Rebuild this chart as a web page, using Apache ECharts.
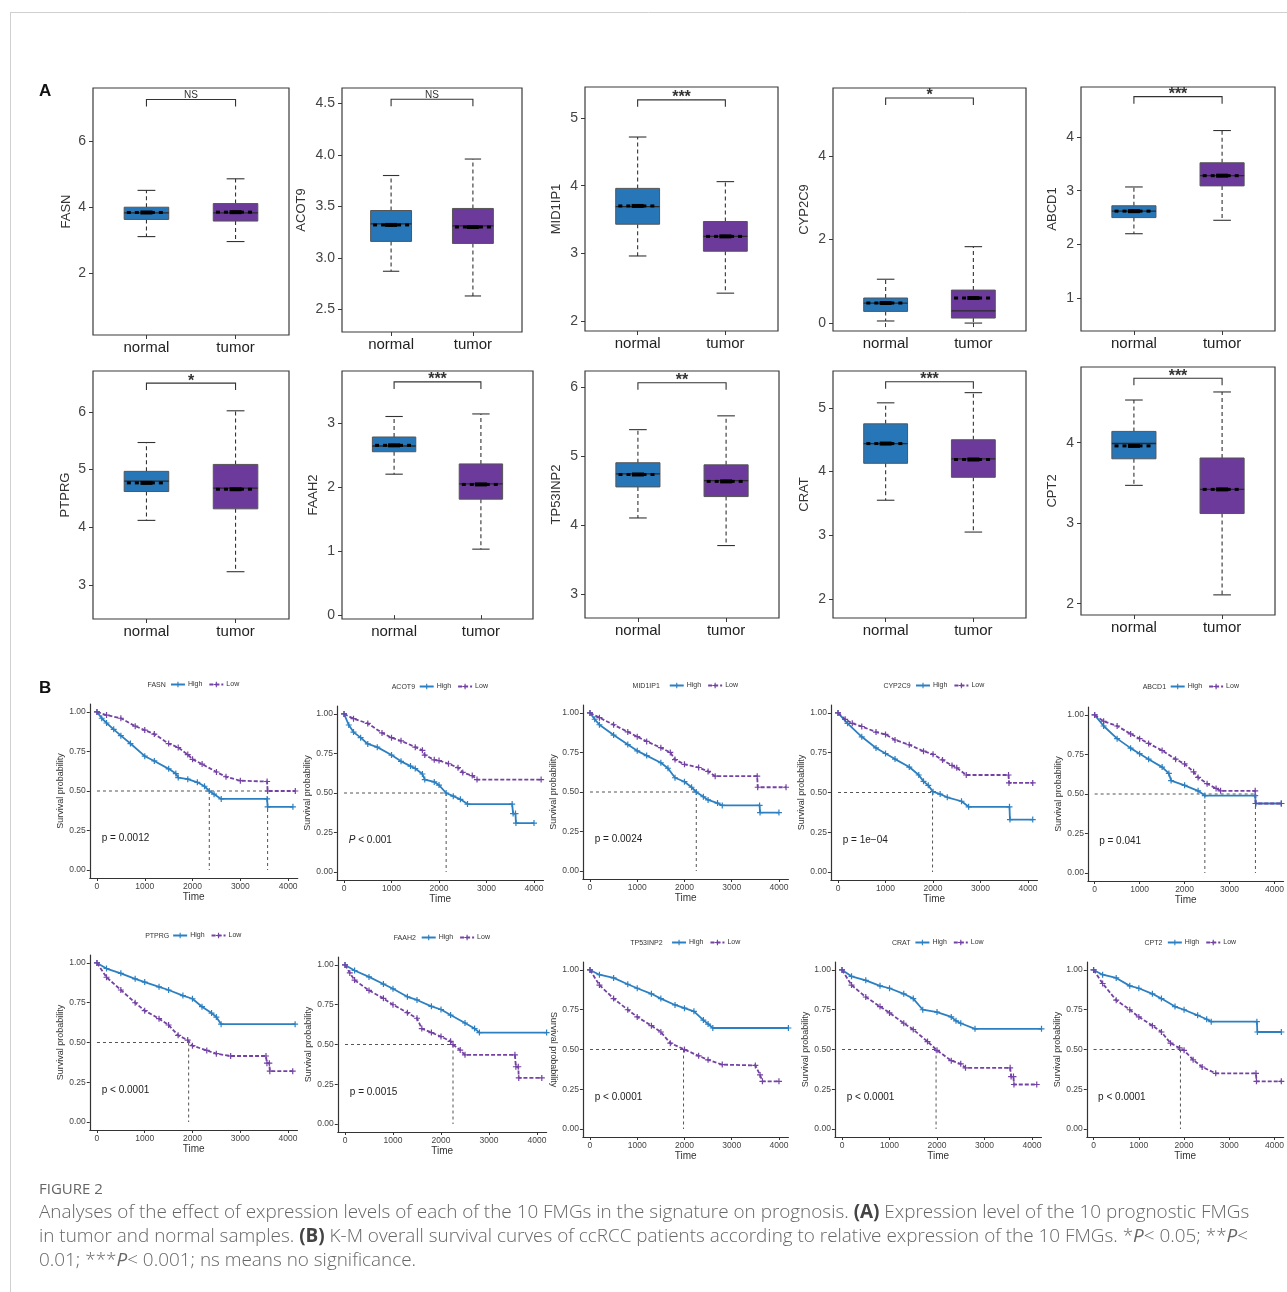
<!DOCTYPE html>
<html><head><meta charset="utf-8">
<script src="https://cdn.jsdelivr.net/npm/echarts@6/dist/echarts.min.js"></script>
<style>html,body{margin:0;padding:0;background:#fff}#c{width:1287px;height:1292px}</style>
</head><body><div id="c"></div>
<script>
// ---------- DATA ----------
const genes = ['FASN','ACOT9','MID1IP1','CYP2C9','ABCD1','PTPRG','FAAH2','TP53INP2','CRAT','CPT2'];
const groups = ['normal','tumor'];
// [min, q1, median, q3, max, mean]
const normalStats = [
 [3.10,3.62,3.82,3.99,4.50,3.83],
 [2.87,3.16,3.33,3.46,3.80,3.32],
 [2.96,3.43,3.69,3.96,4.72,3.70],
 [0.05,0.28,0.48,0.60,1.05,0.48],
 [2.20,2.50,2.62,2.72,3.07,2.62],
 [4.12,4.62,4.80,4.97,5.47,4.77],
 [2.20,2.55,2.64,2.78,3.10,2.65],
 [4.10,4.55,4.74,4.90,5.38,4.73],
 [3.55,4.13,4.44,4.75,5.08,4.44],
 [3.47,3.80,3.99,4.14,4.53,3.96]];
const tumorStats = [
 [2.95,3.57,3.82,4.10,4.85,3.84],
 [2.63,3.14,3.31,3.48,3.96,3.30],
 [2.41,3.03,3.25,3.47,4.06,3.25],
 [0.00,0.12,0.29,0.79,1.83,0.60],
 [2.45,3.09,3.28,3.52,4.12,3.28],
 [3.23,4.32,4.68,5.09,6.02,4.66],
 [1.03,1.81,2.05,2.36,3.14,2.04],
 [3.70,4.41,4.64,4.87,5.58,4.63],
 [3.05,3.91,4.20,4.50,5.24,4.19],
 [2.11,3.12,3.42,3.81,4.63,3.42]];
const sigLabels = ['NS','NS','***','*','***','*','***','**','***','***'];
const sigHeights = [7.25,4.54,5.27,5.39,4.75,6.50,3.64,6.06,5.41,4.80];
const boxYTicks = [[2,4,6],[2.5,3.0,3.5,4.0,4.5],[2,3,4,5],[0,2,4],[1,2,3,4],[3,4,5,6],[0,1,2,3],[3,4,5,6],[2,3,4,5],[2,3,4]];
const boxYRange = [[0.12,7.6],[2.28,4.65],[1.85,5.46],[-0.19,5.63],[0.39,4.93],[2.41,6.71],[-0.06,3.81],[2.65,6.23],[1.70,5.58],[1.86,4.94]];

// KM curves: [time, survival]
const kmHigh = [
 [[0,1],[100,0.96],[200,0.93],[350,0.89],[500,0.85],[700,0.80],[1000,0.72],[1200,0.69],[1500,0.64],[1650,0.61],[1700,0.585],[1900,0.575],[2100,0.555],[2250,0.53],[2350,0.50],[2450,0.48],[2600,0.45],[3560,0.45],[3570,0.40],[4100,0.40]],
 [[0,1],[100,0.93],[200,0.885],[350,0.85],[500,0.81],[700,0.79],[1000,0.74],[1200,0.70],[1400,0.67],[1500,0.655],[1650,0.62],[1700,0.585],[1900,0.57],[2000,0.55],[2150,0.50],[2300,0.48],[2450,0.46],[2600,0.43],[3540,0.43],[3560,0.37],[3610,0.37],[3620,0.31],[4000,0.31]],
 [[0,1],[100,0.96],[200,0.925],[500,0.86],[800,0.80],[1000,0.76],[1200,0.73],[1500,0.685],[1650,0.65],[1800,0.59],[2000,0.565],[2150,0.53],[2250,0.50],[2400,0.47],[2500,0.45],[2700,0.43],[2800,0.415],[3590,0.415],[3600,0.37],[4000,0.37]],
 [[0,1],[200,0.935],[500,0.85],[800,0.78],[1000,0.745],[1200,0.71],[1500,0.66],[1700,0.61],[1800,0.57],[1900,0.545],[2000,0.505],[2150,0.49],[2300,0.47],[2600,0.445],[2750,0.41],[3610,0.41],[3620,0.33],[4100,0.33]],
 [[0,1],[200,0.93],[500,0.85],[800,0.79],[1000,0.755],[1200,0.72],[1500,0.67],[1650,0.63],[1700,0.585],[2000,0.555],[2300,0.52],[2450,0.49],[3570,0.49],[3580,0.44],[4150,0.44]],
 [[0,1],[200,0.965],[500,0.935],[800,0.90],[1000,0.88],[1300,0.85],[1500,0.83],[1800,0.795],[2000,0.775],[2200,0.725],[2400,0.685],[2500,0.66],[2600,0.615],[4150,0.615]],
 [[0,1],[200,0.965],[500,0.925],[800,0.88],[1000,0.85],[1300,0.80],[1500,0.78],[1800,0.74],[2000,0.72],[2200,0.685],[2500,0.635],[2700,0.60],[2800,0.575],[4200,0.575]],
 [[0,1],[200,0.97],[500,0.95],[800,0.91],[1000,0.885],[1300,0.85],[1500,0.82],[1800,0.78],[2000,0.76],[2200,0.74],[2400,0.685],[2500,0.66],[2600,0.635],[4200,0.635]],
 [[0,1],[200,0.96],[500,0.935],[800,0.90],[1000,0.885],[1300,0.85],[1500,0.82],[1700,0.75],[2000,0.735],[2300,0.705],[2400,0.68],[2500,0.665],[2800,0.63],[4200,0.63]],
 [[0,1],[200,0.97],[500,0.95],[800,0.90],[1000,0.885],[1300,0.85],[1500,0.82],[1800,0.77],[2000,0.75],[2300,0.715],[2500,0.69],[2600,0.675],[3610,0.675],[3620,0.61],[4150,0.61]]];
const kmLow = [
 [[0,1],[200,0.98],[500,0.96],[800,0.91],[1000,0.885],[1200,0.86],[1500,0.80],[1700,0.775],[1900,0.73],[2000,0.70],[2200,0.67],[2500,0.62],[2700,0.59],[3000,0.565],[3560,0.56],[3570,0.50],[4150,0.50]],
 [[0,1],[200,0.97],[500,0.94],[800,0.88],[1000,0.85],[1200,0.83],[1500,0.79],[1650,0.77],[1700,0.74],[1900,0.71],[2000,0.705],[2200,0.685],[2400,0.66],[2500,0.63],[2700,0.61],[2800,0.585],[4150,0.585]],
 [[0,1],[200,0.97],[500,0.925],[800,0.88],[1000,0.85],[1200,0.82],[1500,0.78],[1700,0.75],[1800,0.705],[2000,0.675],[2300,0.655],[2500,0.63],[2650,0.60],[3540,0.60],[3550,0.53],[4150,0.53]],
 [[0,1],[150,0.96],[300,0.935],[500,0.915],[800,0.88],[1000,0.865],[1200,0.83],[1500,0.80],[1800,0.76],[2000,0.74],[2200,0.705],[2400,0.67],[2500,0.655],[2700,0.61],[3590,0.61],[3600,0.56],[4100,0.56]],
 [[0,1],[200,0.96],[500,0.93],[800,0.88],[1000,0.85],[1200,0.82],[1500,0.775],[1800,0.72],[2000,0.69],[2200,0.64],[2300,0.605],[2500,0.565],[2700,0.535],[2800,0.52],[3570,0.52],[3580,0.44],[4150,0.44]],
 [[0,1],[200,0.91],[500,0.83],[800,0.75],[1000,0.70],[1300,0.65],[1500,0.61],[1700,0.545],[1900,0.515],[2000,0.48],[2300,0.45],[2500,0.43],[2800,0.415],[3540,0.415],[3560,0.37],[3610,0.37],[3620,0.32],[4100,0.32]],
 [[0,1],[100,0.95],[200,0.905],[500,0.84],[800,0.79],[1000,0.75],[1300,0.70],[1500,0.665],[1600,0.60],[1800,0.575],[2000,0.55],[2200,0.52],[2250,0.50],[2400,0.465],[2500,0.435],[3540,0.435],[3560,0.36],[3610,0.36],[3620,0.29],[4100,0.29]],
 [[0,1],[200,0.905],[500,0.82],[800,0.75],[1000,0.705],[1300,0.65],[1500,0.61],[1700,0.54],[2000,0.50],[2300,0.46],[2500,0.435],[2800,0.405],[3500,0.40],[3600,0.34],[3650,0.30],[4000,0.30]],
 [[0,1],[200,0.905],[500,0.83],[800,0.77],[1000,0.73],[1300,0.665],[1500,0.625],[1800,0.55],[2000,0.495],[2300,0.43],[2500,0.41],[2600,0.385],[3540,0.385],[3560,0.33],[3610,0.33],[3620,0.28],[4100,0.28]],
 [[0,1],[200,0.915],[500,0.81],[800,0.75],[1000,0.705],[1300,0.65],[1500,0.61],[1700,0.54],[1900,0.51],[2000,0.495],[2200,0.435],[2400,0.39],[2700,0.35],[3590,0.35],[3600,0.30],[4150,0.30]]];
const kmMedians = [[2350,3570],[2150],[2250],[1990],[2450,3575],[1920],[2250],[1980],[1980],[1920]];
const kmPLabels = ['p = 0.0012','{i|P} < 0.001','p = 0.0024','p = 1e\u221204','p = 0.041','p < 0.0001','p = 0.0015','p < 0.0001','p < 0.0001','p < 0.0001'];
const kmXTicks = [0,1000,2000,3000,4000];
const kmYTicks = [0,0.25,0.5,0.75,1];

// ---------- LAYOUT / STYLE ----------
const FONT = 'Liberation Sans, Arial, sans-serif';
const BLUE_BOX = '#2676b8', PURPLE_BOX = '#6b3a9b';
const BLUE = '#2c80c2', PURPLE = '#7442a4';
const boxGrids = [
 [93,88,196,247],[342,88,180,244],[585,87,193,244],[833,88,193,243],[1081,87,194,244],
 [93,371,196,248],[342,371,191,248],[585,371,194,247],[833,371,193,247],[1081,367,194,248]];
const boxNameGap = [20,34,22,22,22,21,22,22,22,22];
const kmGrids = [
 [89.8,704,207.9,174],[336.9,706,206.6,174],[582.9,705,205.5,174],[830.9,705,206.6,175],[1087.9,707,206.6,174],
 [89.8,955,207.7,175],[337.8,957,208.8,175],[582.9,962,205.5,175],[834.9,962,206.6,175],[1086.8,962,207.7,175]];
const kmLegendY = [686,688,687,687,688,937,939,944,944,944];

const grid=[], xAxis=[], yAxis=[], series=[], legend=[], title=[];

// ---- boxplots ----
genes.forEach((g,i)=>{
  const [l,t,w,h] = boxGrids[i];
  grid.push({left:l, top:t, width:w, height:h, show:true, borderColor:'#3a3a3a', borderWidth:1.2, backgroundColor:'transparent'});
  const gi = grid.length-1;
  xAxis.push({gridIndex:gi, type:'value', min:0.4, max:2.6,
    axisLine:{show:false}, splitLine:{show:false},
    axisTick:{show:true, customValues:[1,2], length:4, lineStyle:{color:'#3a3a3a'}},
    axisLabel:{customValues:[1,2], formatter:v=>groups[Math.round(v)-1]||'', fontSize:15, color:'#222', fontFamily:FONT, margin:5}});
  yAxis.push({gridIndex:gi, type:'value', min:boxYRange[i][0], max:boxYRange[i][1],
    name:g, nameLocation:'middle', nameGap:boxNameGap[i], nameTextStyle:{fontSize:13, color:'#333', fontFamily:FONT},
    axisLine:{show:false}, splitLine:{show:false},
    axisTick:{show:true, customValues:boxYTicks[i], length:4, lineStyle:{color:'#3a3a3a'}},
    axisLabel:{customValues:boxYTicks[i], formatter:v=> i===1? Number(v).toFixed(1) : String(v), fontSize:14, color:'#444', fontFamily:FONT, margin:7}});
  series.push({type:'custom', xAxisIndex:gi, yAxisIndex:gi,
    data:[[1].concat(normalStats[i]), [2].concat(tumorStats[i])],
    renderItem:(params, api)=>{
      const x = api.value(0);
      const mn=api.value(1), q1=api.value(2), md=api.value(3), q3=api.value(4), mx=api.value(5), mean=api.value(6);
      const c = y=>api.coord([x,y]);
      const halfW = api.size([0.25,0])[0];
      const capH = api.size([0.1,0])[0];
      const meanH = api.size([0.22,0])[0];
      const cx = c(md)[0];
      const yMin=c(mn)[1], yQ1=c(q1)[1], yMd=c(md)[1], yQ3=c(q3)[1], yMx=c(mx)[1], yMean=c(mean)[1];
      const fill = params.dataIndex===0? BLUE_BOX : PURPLE_BOX;
      const dash = {stroke:'#333', lineWidth:1.1, lineDash:[4,3]};
      const solid = {stroke:'#333', lineWidth:1.1};
      return {type:'group', children:[
        {type:'line', shape:{x1:cx,y1:yQ3,x2:cx,y2:yMx}, style:dash},
        {type:'line', shape:{x1:cx,y1:yQ1,x2:cx,y2:yMin}, style:dash},
        {type:'line', shape:{x1:cx-capH,y1:yMx,x2:cx+capH,y2:yMx}, style:solid},
        {type:'line', shape:{x1:cx-capH,y1:yMin,x2:cx+capH,y2:yMin}, style:solid},
        {type:'rect', shape:{x:cx-halfW,y:yQ3,width:2*halfW,height:yQ1-yQ3}, style:{fill:fill, stroke:'#555', lineWidth:1}},
        {type:'line', shape:{x1:cx-halfW,y1:yMd,x2:cx+halfW,y2:yMd}, style:{stroke:'#2a2a2a', lineWidth:1.3}},
        {type:'line', shape:{x1:cx-meanH,y1:yMean,x2:cx+meanH,y2:yMean}, style:{stroke:'#000', lineWidth:3, lineDash:[4,4]}},
        {type:'rect', shape:{x:cx-6,y:yMean-2,width:12,height:4}, style:{fill:'#000'}}
      ]};
    }});
  series.push({type:'custom', xAxisIndex:gi, yAxisIndex:gi, data:[[sigHeights[i]]],
    renderItem:(params, api)=>{
      const h = api.value(0);
      const p1 = api.coord([1,h]), p2 = api.coord([2,h]);
      const lab = sigLabels[i];
      const isNS = lab==='NS';
      return {type:'group', children:[
        {type:'polyline', shape:{points:[[p1[0],p1[1]+7],[p1[0],p1[1]],[p2[0],p2[1]],[p2[0],p2[1]+7]]}, style:{stroke:'#333', lineWidth:1.1, fill:null}},
        {type:'text', x:(p1[0]+p2[0])/2, y: isNS? p1[1]+0.5 : p1[1]+6, style:{text:lab, fill:'#333', font:(isNS?'10px ':'bold 16px ')+FONT, align:'center', verticalAlign:'bottom'}}
      ]};
    }});
});

// ---- KM plots ----
const plusSym = 'path://M4,0h2v4h4v2h-4v4h-2v-4h-4v-2h4z';
genes.forEach((g,i)=>{
  const [l,t,w,h] = kmGrids[i];
  grid.push({left:l, top:t, width:w, height:h, show:false});
  const gi = grid.length-1;
  xAxis.push({gridIndex:gi, type:'value', min:-150, max:4200,
    name:'Time', nameLocation:'middle', nameGap:13, nameTextStyle:{fontSize:10, color:'#333', fontFamily:FONT},
    axisLine:{show:true, onZero:false, lineStyle:{color:'#333', width:1.2}}, splitLine:{show:false},
    axisTick:{show:true, customValues:kmXTicks, length:3, lineStyle:{color:'#333'}},
    axisLabel:{customValues:kmXTicks, formatter:v=>String(Math.round(v)), fontSize:8.5, color:'#444', fontFamily:FONT, margin:4}});
  yAxis.push({gridIndex:gi, type:'value', min:-0.05, max:1.05,
    name:'Survival probability', nameLocation:'middle', nameGap:23, nameRotate: i===7? -90 : 90,
    nameTextStyle:{fontSize:9, color:'#333', fontFamily:FONT},
    axisLine:{show:true, onZero:false, lineStyle:{color:'#333', width:1.2}}, splitLine:{show:false},
    axisTick:{show:true, customValues:kmYTicks, length:3, lineStyle:{color:'#333'}},
    axisLabel:{customValues:kmYTicks, formatter:v=>Number(v).toFixed(2), fontSize:8.5, color:'#444', fontFamily:FONT, margin:4}});
  const meds = kmMedians[i];
  const mMax = Math.max.apply(null, meds);
  const medStyle = {color:'#555', width:1, type:[3,3]};
  series.push({type:'line', name:'_med', xAxisIndex:gi, yAxisIndex:gi, data:[[0,0.5],[mMax,0.5]], showSymbol:false, silent:true, lineStyle:medStyle, z:1});
  meds.forEach(m=>{
    series.push({type:'line', name:'_med', xAxisIndex:gi, yAxisIndex:gi, data:[[m,0.5],[m,0]], showSymbol:false, silent:true, lineStyle:medStyle, z:1});
  });
  series.push({type:'line', name:'High', xAxisIndex:gi, yAxisIndex:gi, data:kmHigh[i], symbol:plusSym, symbolSize:6, showSymbol:true,
    itemStyle:{color:BLUE}, lineStyle:{color:BLUE, width:1.8}, z:3, animation:false});
  series.push({type:'line', name:'Low', xAxisIndex:gi, yAxisIndex:gi, data:kmLow[i], symbol:plusSym, symbolSize:6, showSymbol:true,
    itemStyle:{color:PURPLE}, lineStyle:{color:PURPLE, width:1.8, type:[4,2]}, z:3, animation:false});
  const cx = l + w/2;
  const cy = kmLegendY[i];
  const tw = g.length*4.6;
  const total = tw + 4 + 70;
  title.push({text:g, left:cx-total/2, top:cy-4.5, textStyle:{fontSize:7, fontWeight:'normal', color:'#333', fontFamily:FONT}, padding:0});
  legend.push({data:['High','Low'], left:cx-total/2+tw+4, top:cy-5, padding:0, itemWidth:14, itemHeight:7, itemGap:6,
    textStyle:{fontSize:7, color:'#333', fontFamily:FONT, padding:[0,0,0,-2]}});
});

const chart = echarts.init(document.getElementById('c'), null, {renderer:'canvas'});
chart.setOption({animation:false, backgroundColor:'#fff', title, legend, grid, xAxis, yAxis, series});

// ---- annotations ----
const graphic = [
  {type:'line', shape:{x1:10,y1:12.5,x2:1287,y2:12.5}, style:{stroke:'#cfcfcf', lineWidth:1}},
  {type:'line', shape:{x1:10.5,y1:12,x2:10.5,y2:1292}, style:{stroke:'#cfcfcf', lineWidth:1}},
  {type:'text', x:39, y:91, style:{text:'A', font:'bold 17px '+FONT, fill:'#111', verticalAlign:'middle'}},
  {type:'text', x:39, y:688, style:{text:'B', font:'bold 17px '+FONT, fill:'#111', verticalAlign:'middle'}}
];
genes.forEach((g,i)=>{
  const p = chart.convertToPixel({gridIndex:10+i}, [100, 0.2]);
  graphic.push({type:'text', x:p[0], y:p[1], style:{text:kmPLabels[i], font:'10px '+FONT, fill:'#222', verticalAlign:'middle',
    rich:{i:{fontStyle:'italic', fontSize:10, fontFamily:FONT, fill:'#222'}}}});
});
const capFont = 'Open Sans, Noto Sans, sans-serif';
const CAP = 18.9;
const capRich = {
  b:{fontWeight:'bold', fontSize:CAP, fontFamily:capFont, fill:'#444'},
  i:{fontStyle:'italic', fontSize:CAP, fontFamily:capFont, fill:'#666'}
};
const capLines = [
  'Analyses of the effect of expression levels of each of the 10 FMGs in the signature on prognosis. {b|(A)} Expression level of the 10 prognostic FMGs',
  'in tumor and normal samples. {b|(B)} K-M overall survival curves of ccRCC patients according to relative expression of the 10 FMGs. *{i|P}< 0.05; **{i|P}<',
  '0.01; ***{i|P}< 0.001; ns means no significance.'];
graphic.push({type:'text', x:39, y:1190, style:{text:'FIGURE 2', font:'15px '+capFont, fill:'#666', verticalAlign:'middle'}});
capLines.forEach((t,k)=>{
  graphic.push({type:'text', x:39, y:1213+k*24, style:{text:t, font:'300 '+CAP+'px '+capFont, fill:'#666', verticalAlign:'middle', rich:capRich}});
});
chart.setOption({graphic});
</script></body></html>
